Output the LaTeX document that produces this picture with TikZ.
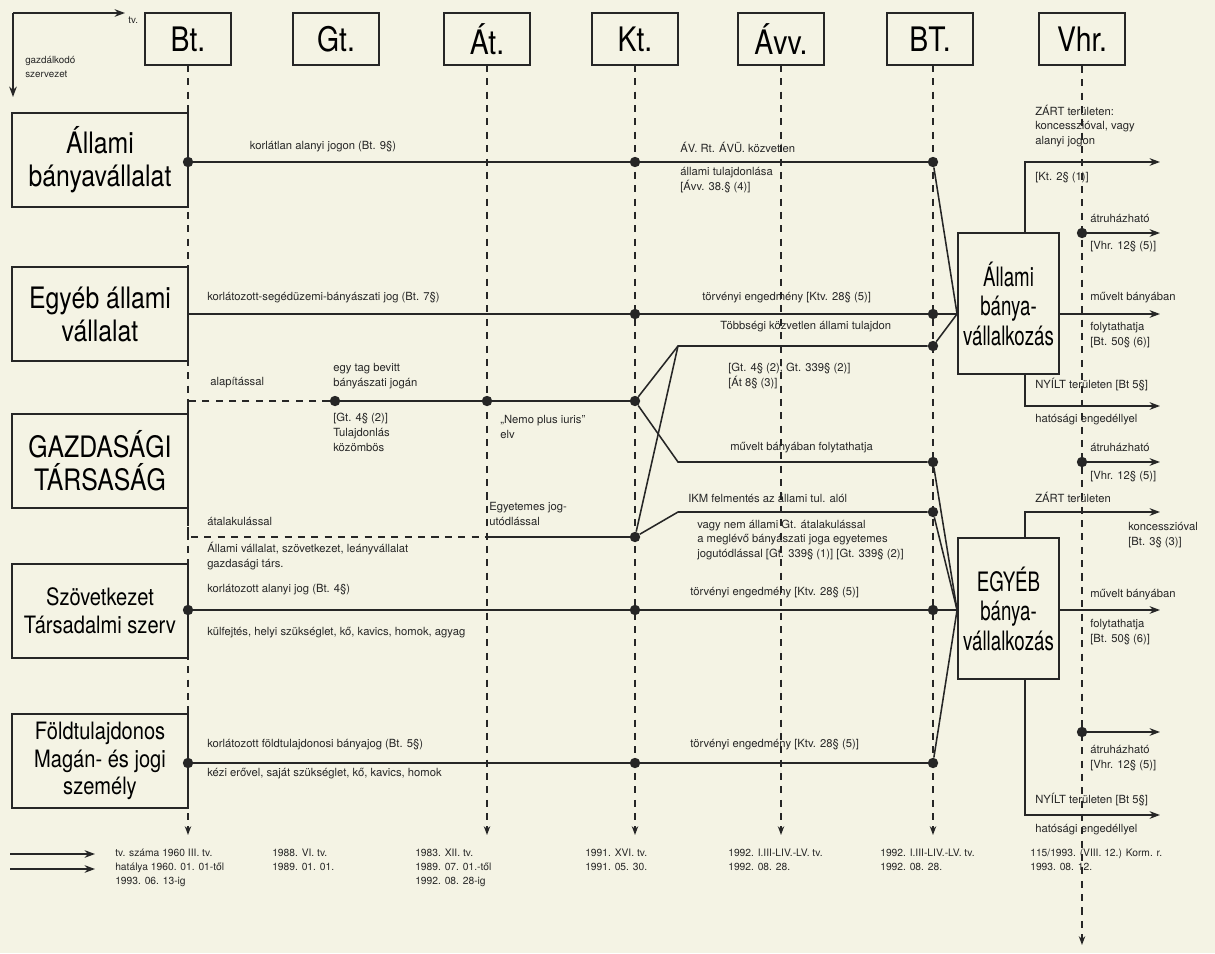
\documentclass[tikz,border=0pt]{standalone}
\usepackage{fontspec}
\setmainfont{TeX Gyre Heros}
\newfontfamily\narrowfont[FakeStretch=0.84]{TeX Gyre Heros}
\newfontfamily\narrowerfont[FakeStretch=0.70]{TeX Gyre Heros}
\usetikzlibrary{arrows.meta,positioning,calc}
\definecolor{paper}{HTML}{F4F3E4}
\definecolor{ink}{HTML}{262626}
\tikzset{
  lawbox/.style={draw=ink, line width=1.2pt, fill=paper, minimum width=2.15cm,
    minimum height=1.3cm, inner sep=0pt,
    font=\narrowfont\fontsize{24}{28}\selectfont},
  orgbox/.style={draw=ink, line width=1.3pt, fill=paper, minimum width=4.4cm,
    minimum height=2.33cm, inner sep=0pt, align=center,
    font=\narrowfont\fontsize{21}{23.5}\selectfont},
  orgboxsmall/.style={orgbox, font=\narrowfont\fontsize{17}{19.8}\selectfont},
  firmbox/.style={draw=ink, line width=1.3pt, fill=paper, minimum width=2.525cm,
    minimum height=3.525cm, inner sep=0pt, align=center,
    font=\narrowerfont\fontsize{19}{21}\selectfont},
  colline/.style={ink, line width=1pt, dash pattern=on 5pt off 4.5pt,
    -{Stealth[length=2.2mm,width=1.6mm]}},
  flow/.style={ink, line width=1.1pt},
  flowdash/.style={flow, dash pattern=on 5pt off 4.5pt},
  outarrow/.style={flow, -{Stealth[length=2.6mm,width=1.9mm]}},
  jdot/.style={circle, fill=ink, inner sep=0pt, minimum size=2.6mm},
  lbl/.style={font=\fontsize{8}{10.6}\selectfont, text=ink, anchor=west,
    align=left, inner sep=0pt},
  datelbl/.style={font=\fontsize{7.3}{9.9}\selectfont, text=ink,
    anchor=north west, align=left, inner sep=0pt},
}

\begin{document}
\begin{tikzpicture}[x=0.025cm, y=-0.025cm]
  \fill[paper] (0,0) rectangle (1215,953);
  \useasboundingbox (0,0) rectangle (1215,953);

  % --- axes in the corner ---
  \coordinate (corner) at (13,13);
  \coordinate (tvend) at (125,13);
  \coordinate (orgend) at (13,97);
  \draw[outarrow] (corner) -- (tvend);
  \draw[outarrow] (corner) -- (orgend);
  \node[lbl, font=\fontsize{7}{9.5}\selectfont] (tvlab) at (128,20) {tv.};
  \node[lbl, font=\fontsize{7}{9.5}\selectfont] (orglab) at (25,67)
    {gazdálkodó\\szervezet};

  % --- law headers and their time lines ---
  \coordinate (foot) at (0,835);
  \coordinate (vfoot) at (0,945);
  \foreach \n/\x/\t in {bt/188/Bt., gt/336/Gt., at/487/Át., kt/635/Kt.,
      avv/781/Ávv., btt/930/BT., vhr/1082/Vhr.}
    \node[lawbox] (\n) at (\x,39) {\t};
  \foreach \n/\x in {bt/188,at/487,kt/635,avv/781,btt/933}
    \draw[colline] (\x,65) -- (\x,835);
  \draw[colline] (vhr.south) -- (vhr.south |- vfoot);

  % --- organisations ---
  \node[orgbox] (allami) at (100,160) {Állami\\bányavállalat};
  \node[orgbox] (egyeb) at (100,314) {Egyéb állami\\vállalat};
  \node[orgbox] (gazd) at (100,461) {GAZDASÁGI\\TÁRSASÁG};
  \node[orgboxsmall] (szov) at (100,611) {Szövetkezet\\Társadalmi szerv};
  \node[orgboxsmall] (fold) at (100,761) {Földtulajdonos\\Magán- és jogi\\személy};

  % --- mining enterprises ---
  \node[firmbox] (abox) at (1008.5,303.5) {Állami\\bánya-\\vállalkozás};
  \node[firmbox] (ebox) at (1008.5,608.5) {EGYÉB\\bánya-\\vállalkozás};

  % --- junction dots ---
  \foreach \n/\x/\y in {d1a/188/162, d1k/635/162, d1b/933/162,
      d2k/635/314, d2b/933/314, d3b/933/346,
      dg1/335/401, dg2/487/401, dg3/635/401, dmb/933/462,
      d4k/635/537, dib/933/512,
      d5a/188/610, d5k/635/610, d5b/933/610,
      d6a/188/763, d6k/635/763, d6b/933/763,
      v1/1082/233, v2/1082/462, v3/1082/732}
    \node[jdot] (\n) at (\x,\y) {};

  % --- bends ---
  \coordinate (tb) at (678,346);
  \coordinate (mv) at (678,462);
  \coordinate (ik) at (678,512);
  \coordinate (gtop) at (188,401);
  \coordinate (gbot) at (188,537);
  \coordinate (at4) at (487,537);
  \coordinate (ain) at (abox.west |- d2b);
  \coordinate (ein) at (ebox.west |- d5b);

  % --- rows ---
  \draw[flow] (d1a) -- (d1b);
  \draw[flow] (egyeb.east |- d2b) -- (d2b);
  \draw[flow] (dg1) -- (dg3);
  \draw[flowdash] (dg1) -- (gtop) -- (gbot) -- (at4);
  \draw[flow] (at4) -- (d4k);
  \draw[flow] (dg3) -- (tb) -- (d3b);
  \draw[flow] (dg3) -- (mv) -- (dmb);
  \draw[flow] (d4k) -- (tb);
  \draw[flow] (d4k) -- (ik) -- (dib);
  \draw[flow] (d5a) -- (d5b);
  \draw[flow] (d6a) -- (d6b);

  % --- into the enterprises ---
  \foreach \n in {d1b,d2b,d3b} \draw[flow] (\n) -- (ain);
  \foreach \n in {dmb,dib,d5b,d6b} \draw[flow] (\n) -- (ein);

  % --- out of the enterprises ---
  \coordinate (tap) at (1025,0);
  \coordinate (tip) at (1160,0);
  \draw[outarrow] (abox.north -| tap) -- (tap |- d1b) -- (tip |- d1b);
  \draw[outarrow] (abox.east |- d2b) -- (tip |- d2b);
  \coordinate (ny1) at (1025,406);
  \draw[outarrow] (abox.south -| tap) -- (ny1) -- (tip |- ny1);
  \draw[outarrow] (v1) -- (tip |- v1);
  \draw[outarrow] (v2) -- (tip |- v2);
  \draw[outarrow] (ebox.north -| tap) -- (tap |- dib) -- (tip |- dib);
  \draw[outarrow] (ebox.east |- d5b) -- (tip |- d5b);
  \coordinate (ny2) at (1025,815);
  \draw[outarrow] (ebox.south -| tap) -- (ny2) -- (tip |- ny2);
  \draw[outarrow] (v3) -- (tip |- v3);

  % --- row labels ---
  \node[lbl, anchor=center] (l1a) at (323,147) {korlátlan alanyi jogon (Bt. 9§)};
  \node[lbl] (l1b) at (680,147) {ÁV. Rt. ÁVÜ. közvetlen};
  \node[lbl] (l1c) at (680,180) {állami tulajdonlása\\{}[Ávv. 38.§ (4)]};
  \node[lbl] (l2a) at (207,298) {korlátozott-segédüzemi-bányászati jog (Bt. 7§)};
  \node[lbl] (l2b) at (702,298) {törvényi engedmény [Ktv. 28§ (5)]};
  \node[lbl] (l3a) at (720,327) {Többségi közvetlen állami tulajdon};
  \node[lbl] (l3b) at (728,376) {[Gt. 4§ (2); Gt. 339§ (2)]\\{}[Át 8§ (3)]};
  \node[lbl] (l4a) at (210,383) {alapítással};
  \node[lbl] (l4b) at (333,376) {egy tag bevitt\\bányászati jogán};
  \node[lbl] (l4c) at (333,432) {[Gt. 4§ (2)]\\Tulajdonlás\\közömbös};
  \node[lbl] (l4d) at (500,427) {„Nemo plus iuris”\\elv};
  \node[lbl] (l4e) at (730,448) {művelt bányában folytathatja};
  \node[lbl] (l5a) at (688,498) {IKM felmentés az állami tul. alól};
  \node[lbl] (l5b) at (697,540) {vagy nem állami Gt. átalakulással\\a meglévő bányászati joga egyetemes\\jogutódlással [Gt. 339§ (1)] [Gt. 339§ (2)]};
  \node[lbl] (l5c) at (489,514) {Egyetemes jog-\\utódlással};
  \node[lbl] (l5d) at (207,521) {átalakulással};
  \node[lbl] (l5e) at (207,556) {Állami vállalat, szövetkezet, leányvállalat\\gazdasági társ.};
  \node[lbl] (l6a) at (207,590) {korlátozott alanyi jog (Bt. 4§)};
  \node[lbl] (l6b) at (690,593) {törvényi engedmény [Ktv. 28§ (5)]};
  \node[lbl] (l6c) at (207,633) {külfejtés, helyi szükséglet, kő, kavics, homok, agyag};
  \node[lbl] (l7a) at (207,745) {korlátozott földtulajdonosi bányajog (Bt. 5§)};
  \node[lbl] (l7b) at (690,745) {törvényi engedmény [Ktv. 28§ (5)]};
  \node[lbl] (l7c) at (207,774) {kézi erővel, saját szükséglet, kő, kavics, homok};

  % --- labels on the right ---
  \node[lbl] (r1a) at (1035,126) {ZÁRT területen:\\koncesszióval, vagy\\alanyi jogon};
  \node[lbl] (r1b) at (1035,178) {[Kt. 2§ (1)]};
  \node[lbl] (r2a) at (1090,218) {átruházható};
  \node[lbl] (r2b) at (1090,247) {[Vhr. 12§ (5)]};
  \node[lbl] (r3a) at (1090,298) {művelt bányában};
  \node[lbl] (r3b) at (1090,335) {folytathatja\\{}[Bt. 50§ (6)]};
  \node[lbl] (r4a) at (1035,385) {NYÍLT területen [Bt 5§]};
  \node[lbl] (r4b) at (1035,420) {hatósági engedéllyel};
  \node[lbl] (r5a) at (1090,447) {átruházható};
  \node[lbl] (r5b) at (1090,477) {[Vhr. 12§ (5)]};
  \node[lbl] (r6a) at (1035,497) {ZÁRT területen};
  \node[lbl] (r6b) at (1128,535) {koncesszióval\\{}[Bt. 3§ (3)]};
  \node[lbl] (r7a) at (1090,595) {művelt bányában};
  \node[lbl] (r7b) at (1090,632) {folytathatja\\{}[Bt. 50§ (6)]};
  \node[lbl] (r8a) at (1090,758) {átruházható\\{}[Vhr. 12§ (5)]};
  \node[lbl] (r9a) at (1035,800) {NYÍLT területen [Bt 5§]};
  \node[lbl] (r9b) at (1035,830) {hatósági engedéllyel};

  % --- legend of the laws ---
  \coordinate (la1) at (10,854);
  \coordinate (lb1) at (95,854);
  \coordinate (la2) at (10,869);
  \coordinate (lb2) at (95,869);
  \draw[outarrow] (la1) -- (lb1);
  \draw[outarrow] (la2) -- (lb2);
  \node[datelbl] (t1) at (115,849) {tv. száma 1960 III. tv.\\hatálya 1960. 01. 01-től\\1993. 06. 13-ig};
  \node[datelbl] (t2) at (272,849) {1988. VI. tv.\\1989. 01. 01.};
  \node[datelbl] (t3) at (415,849) {1983. XII. tv.\\1989. 07. 01.-től\\1992. 08. 28-ig};
  \node[datelbl] (t4) at (585,849) {1991. XVI. tv.\\1991. 05. 30.};
  \node[datelbl] (t5) at (728,849) {1992. I.III-LIV.-LV. tv.\\1992. 08. 28.};
  \node[datelbl] (t6) at (880,849) {1992. I.III-LIV.-LV. tv.\\1992. 08. 28.};
  \node[datelbl] (t7) at (1030,849) {115/1993. (VIII. 12.) Korm. r.\\1993. 08. 12.};
\end{tikzpicture}
\end{document}
